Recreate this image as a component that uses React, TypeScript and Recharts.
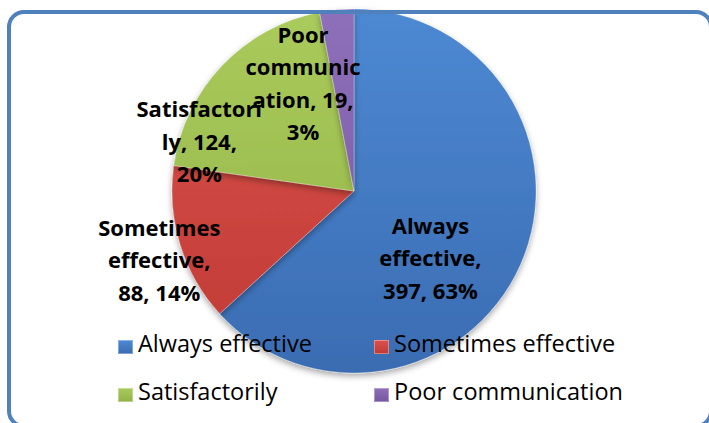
import { PieChart, Pie, Cell, Legend } from "recharts";

const categories = ["Always effective", "Sometimes effective", "Satisfactorily", "Poor communication"];
const counts = [397, 88, 124, 19];
const percents = [63, 14, 20, 3];
// how the label text wraps in the original
const labelLines = [
  ["Always", "effective,", "397, 63%"],
  ["Sometimes", "effective,", "88, 14%"],
  ["Satisfactori", "ly, 124,", "20%"],
  ["Poor", "communic", "ation, 19,", "3%"],
];

const COLORS = [
  { id: "gBlue", top: "#4d89d3", bottom: "#3a6cb2" },
  { id: "gRed", top: "#dc514c", bottom: "#bf3a34" },
  { id: "gGreen", top: "#aacb5c", bottom: "#91b244" },
  { id: "gPurple", top: "#8d6fba", bottom: "#7657a0" },
];

// label centre, as a fraction of the radius from the pie centre
const LABEL_POS = [
  [0.42, 0.37],
  [-1.07, 0.38],
  [-0.85, -0.27],
  [-0.28, -0.59],
];

const data = categories.map((name, i) => ({ name, value: counts[i], pct: percents[i] }));

const W = 709;
const H = 423;
const LINE = 32.5;

const renderLabel = (props: any) => {
  const { cx, cy, outerRadius, index } = props;
  const lines = labelLines[index];
  const [fx, fy] = LABEL_POS[index];
  const x = cx + fx * outerRadius;
  const y0 = cy + fy * outerRadius - ((lines.length - 1) / 2) * LINE + 8;
  return (
    <text
      x={x}
      y={y0}
      textAnchor="middle"
      fontFamily="'Open Sans', sans-serif"
      fontWeight={700}
      fontSize={22}
      fill="#000"
    >
      {lines.map((l, i) => (
        <tspan key={i} x={x} y={y0 + i * LINE}>
          {l}
        </tspan>
      ))}
    </text>
  );
};

// legend in the original reads row by row: Always / Sometimes, Satisfactorily / Poor
const renderLegend = () => (
  <div
    style={{
      display: "grid",
      gridTemplateColumns: "256px 270px",
      rowGap: 16,
      fontFamily: "'Open Sans', sans-serif",
      fontSize: 23.5,
      lineHeight: "32px",
      color: "#000",
    }}
  >
    {categories.map((name, i) => {
      const c = COLORS[i];
      return (
        <div key={name} style={{ display: "flex", alignItems: "flex-start", height: 32, whiteSpace: "nowrap" }}>
          <span
            style={{
              width: 15,
              height: 14,
              marginTop: 13,
              marginRight: 5,
              flex: "none",
              background: `linear-gradient(${c.top}, ${c.bottom})`,
              boxShadow: "inset 0 0 0 1px rgba(255,255,255,0.35)",
              display: "inline-block",
            }}
          />
          <span>{name}</span>
        </div>
      );
    })}
  </div>
);

export default function App() {
  return (
    <div style={{ position: "absolute", left: 0, top: 0, width: W, height: H, background: "#fff", overflow: "hidden" }}>
      <PieChart width={W} height={H} margin={{ top: 0, right: 0, bottom: 0, left: 0 }}>
        <defs>
          {COLORS.map((c) => (
            <linearGradient key={c.id} id={c.id} gradientUnits="userSpaceOnUse" x1="0" y1="9" x2="0" y2="373">
              <stop offset="0%" stopColor={c.top} />
              <stop offset="100%" stopColor={c.bottom} />
            </linearGradient>
          ))}
          <filter id="pieShadow" x="-20%" y="-20%" width="140%" height="140%">
            <feDropShadow dx="0" dy="3" stdDeviation="3" floodColor="#000" floodOpacity="0.35" />
          </filter>
        </defs>
        <Pie
          data={data}
          dataKey="value"
          nameKey="name"
          cx={354}
          cy={191}
          outerRadius={182}
          startAngle={90}
          endAngle={-270}
          stroke="rgba(255,255,255,0.25)"
          strokeWidth={1}
          label={renderLabel}
          labelLine={false}
          isAnimationActive={false}
          style={{ filter: "url(#pieShadow)" }}
        >
          {data.map((entry, i) => (
            <Cell key={`cell-${entry.name}`} fill={`url(#${COLORS[i].id})`} />
          ))}
        </Pie>
        <Legend
          content={renderLegend}
          wrapperStyle={{ position: "absolute", left: 118, top: 327, width: 540, height: 85 }}
        />
      </PieChart>
      <div
        style={{
          position: "absolute",
          left: 7,
          top: 10,
          width: 698,
          height: 410,
          border: "4px solid #4f81bd",
          borderRadius: 17,
          pointerEvents: "none",
        }}
      />
    </div>
  );
}
